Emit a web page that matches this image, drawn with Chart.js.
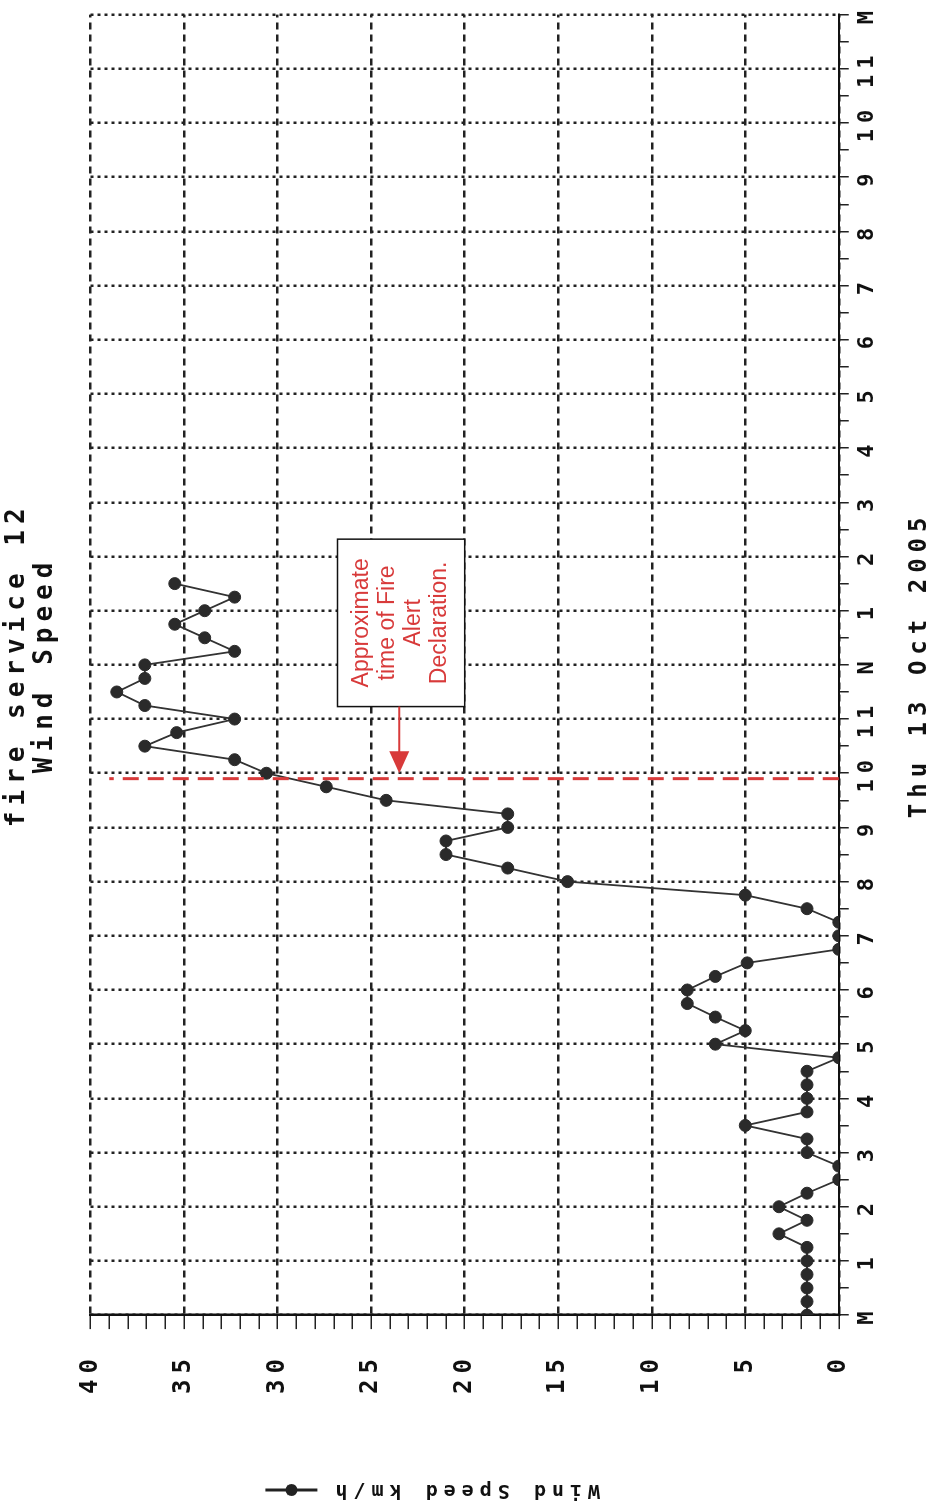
<!DOCTYPE html>
<html><head><meta charset="utf-8">
<script src="https://cdn.jsdelivr.net/npm/chart.js@4"></script>
<style>
html,body{margin:0;padding:0;background:#fff;overflow:hidden;width:935px;height:1512px;}
#wrap{position:absolute;left:0;top:0;width:1512px;height:935px;transform-origin:0 0;transform:translate(0,1512px) rotate(-90deg);}
canvas{display:block;}
</style></head><body>
<div id="wrap"><canvas id="c" width="1512" height="935"></canvas></div>
<script>
// ---- data (hours after midnight, 15-minute readings) ----
const times = [0,0.25,0.5,0.75,1,1.25,1.5,1.75,2,2.25,2.5,2.75,3,3.25,3.5,3.75,4,4.25,4.5,4.75,
  5,5.25,5.5,5.75,6,6.25,6.5,6.75,7,7.25,7.5,7.75,8,8.25,8.5,8.75,9,9.25,9.5,9.75,
  10,10.25,10.5,10.75,11,11.25,11.5,11.75,12,12.25,12.5,12.75,13,13.25,13.5];
const speeds = [1.7,1.7,1.7,1.7,1.7,1.7,3.2,1.7,3.2,1.7,0,0,1.7,1.7,5.0,1.7,1.7,1.7,1.7,0,
  6.6,5.0,6.6,8.1,8.1,6.6,4.9,0,0,0,1.7,5.0,14.5,17.7,21.0,21.0,17.7,17.7,24.2,27.4,
  30.6,32.3,37.1,35.4,32.3,37.1,38.6,37.1,37.1,32.3,33.9,35.5,33.9,32.3,35.5];
const hourLabels = ['M','1','2','3','4','5','6','7','8','9','10','11','N','1','2','3','4','5','6','7','8','9','10','11','M'];
const titleLines = ['fire service 12','Wind Speed'];
const dateLabel = 'Thu 13 Oct 2005';
const seriesName = 'Wind Speed km/h';
const alertTime = 9.9;
const alertNote = ['Approximate','time of Fire','Alert','Declaration.'];

const MONO = '"DejaVu Sans Mono", "Liberation Mono", monospace';
const SPACING = '6px';

const spacingPlugin = {
  id: 'spacing',
  beforeUpdate(chart){ chart.ctx.letterSpacing = SPACING; },
  beforeDraw(chart){ chart.ctx.letterSpacing = SPACING; }
};

const extrasPlugin = {
  id: 'extras',
  afterDraw(chart){
    const {ctx, scales:{x, y}} = chart;
    // legend marker next to y-axis title
    ctx.save();
    ctx.letterSpacing = SPACING;
    ctx.font = 'bold 20px ' + MONO;
    const tw = ctx.measureText(seriesName).width;
    const cy = (chart.chartArea.top + chart.chartArea.bottom) / 2;
    const tStart = cy - tw / 2;
    const cx = y.left + 10 + 12;
    ctx.strokeStyle = '#222'; ctx.lineWidth = 3;
    ctx.beginPath(); ctx.moveTo(cx, tStart - 12); ctx.lineTo(cx, tStart - 64); ctx.stroke();
    ctx.fillStyle = '#222';
    ctx.beginPath(); ctx.arc(cx, tStart - 38, 6, 0, Math.PI * 2); ctx.fill();
    ctx.restore();

    // alert annotation
    ctx.save();
    ctx.letterSpacing = '0px';
    const red = '#d83a3a';
    const xp = x.getPixelForValue(alertTime);
    ctx.strokeStyle = red; ctx.lineWidth = 3; ctx.setLineDash([16, 9]);
    ctx.beginPath(); ctx.moveTo(xp, y.getPixelForValue(0)); ctx.lineTo(xp, y.getPixelForValue(39)); ctx.stroke();
    ctx.setLineDash([]);
    const bx1 = x.getPixelForValue(11.23), bx2 = x.getPixelForValue(14.32);
    const by1 = y.getPixelForValue(26.8), by2 = y.getPixelForValue(20.0);
    ctx.fillStyle = '#fff';
    ctx.fillRect(bx1, by1, bx2 - bx1, by2 - by1);
    ctx.strokeStyle = '#111'; ctx.lineWidth = 1.5;
    ctx.strokeRect(bx1, by1, bx2 - bx1, by2 - by1);
    // arrow
    const ay = y.getPixelForValue(23.5);
    const tip = x.getPixelForValue(10.0);
    ctx.strokeStyle = red; ctx.lineWidth = 2;
    ctx.beginPath(); ctx.moveTo(bx1, ay); ctx.lineTo(tip + 18, ay); ctx.stroke();
    ctx.fillStyle = red;
    ctx.beginPath(); ctx.moveTo(tip, ay); ctx.lineTo(tip + 22, ay - 10); ctx.lineTo(tip + 22, ay + 10); ctx.closePath(); ctx.fill();
    // text
    ctx.font = '23px "Liberation Sans", Arial, sans-serif';
    ctx.textAlign = 'center'; ctx.textBaseline = 'middle';
    const tcx = (bx1 + bx2) / 2, tcy = (by1 + by2) / 2;
    const lh = 26;
    alertNote.forEach((s, i) => {
      ctx.fillText(s, tcx, tcy + (i - (alertNote.length - 1) / 2) * lh);
    });
    ctx.restore();
  }
};

new Chart(document.getElementById('c'), {
  type: 'line',
  data: {
    datasets: [{
      label: seriesName,
      data: times.map((t, i) => ({x: t, y: speeds[i]})),
      borderColor: '#333',
      borderWidth: 1.8,
      pointRadius: 6,
      pointBackgroundColor: '#2a2a2a',
      pointBorderColor: '#2a2a2a',
      pointBorderWidth: 1,
      tension: 0
    }]
  },
  options: {
    responsive: false,
    animation: false,
    devicePixelRatio: 1,
    layout: {padding: {left: 0, right: 8, top: 0, bottom: 0}},
    plugins: {
      legend: {display: false},
      tooltip: {enabled: false},
      title: {
        display: true, text: titleLines, fullSize: false, color: '#111',
        font: {family: MONO, size: 26, weight: 'bold', lineHeight: 1.05},
        padding: {top: 4, bottom: 32}
      }
    },
    scales: {
      x: {
        type: 'linear', min: 0, max: 24,
        border: {display: true, color: '#111', width: 2, dash: [3, 4]},
        grid: {
          color: c => Number.isInteger(c.tick.value) ? '#222' : 'rgba(0,0,0,0)',
          lineWidth: 2.5, tickColor: '#222', tickLength: 10, tickWidth: 1.5
        },
        ticks: {
          stepSize: 0.5, autoSkip: false, maxRotation: 0, minRotation: 0, padding: 5,
          color: '#111', font: {family: MONO, size: 22, weight: 'bold'},
          callback: v => Number.isInteger(v) ? hourLabels[v] : ''
        },
        title: {
          display: true, text: dateLabel, color: '#111',
          font: {family: MONO, size: 24, weight: 'bold'},
          padding: {top: 20, bottom: 1}
        }
      },
      y: {
        min: 0, max: 40,
        border: {display: true, color: '#111', width: 2.5, dash: [7, 5]},
        grid: {
          color: c => (c.tick.value % 5 === 0) ? '#222' : 'rgba(0,0,0,0)',
          lineWidth: 2.5, tickColor: '#222', tickLength: 14, tickWidth: 1.5
        },
        ticks: {
          stepSize: 1, autoSkip: false, padding: 24,
          color: '#111', font: {family: MONO, size: 24, weight: 'bold'},
          callback: v => (v % 5 === 0) ? String(v) : ''
        },
        title: {
          display: true, text: seriesName, color: '#111',
          font: {family: MONO, size: 20, weight: 'bold'},
          padding: {top: 10, bottom: 60}
        }
      }
    }
  },
  plugins: [spacingPlugin, extrasPlugin]
});
</script>
</body></html>
